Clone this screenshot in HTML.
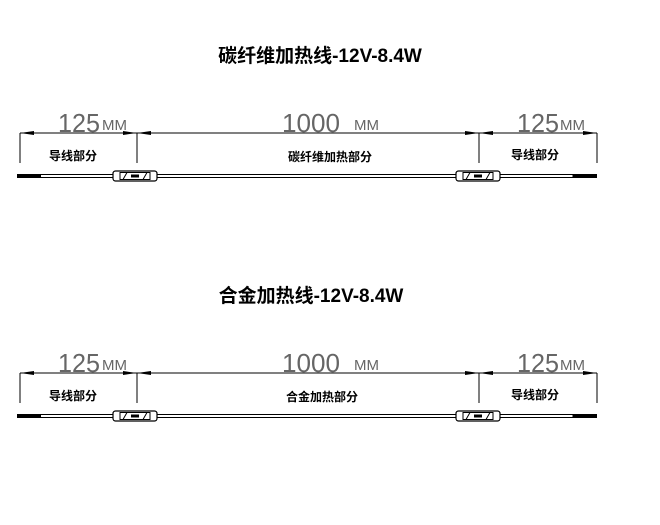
<!DOCTYPE html>
<html><head><meta charset="utf-8"><style>
html,body{margin:0;padding:0;background:#fff;width:660px;height:525px;overflow:hidden}
svg{display:block}
.t{font-family:"Liberation Sans","Noto Sans CJK SC",sans-serif;font-weight:bold;fill:#000}
.d{font-family:"Liberation Sans",sans-serif;fill:#666;font-weight:normal}
</style></head><body>
<svg width="660" height="525" viewBox="0 0 660 525" xmlns="http://www.w3.org/2000/svg">
<defs>
<g id="conn">
<rect x="0" y="-5" width="44" height="10" rx="2.5" fill="#fff" stroke="#000" stroke-width="1.2"/>
<rect x="7" y="-3.5" width="30" height="7" fill="#fff" stroke="#000" stroke-width="1"/>
<line x1="10" y1="3.5" x2="14" y2="-3.5" stroke="#000"/>
<line x1="30" y1="3.5" x2="34" y2="-3.5" stroke="#000"/>
<rect x="18" y="-1.5" width="8" height="3" fill="#000"/>
</g>
<g id="row">
<line x1="20" y1="0" x2="597" y2="0" stroke="#000" stroke-width="1"/>
<line x1="20" y1="0" x2="20" y2="30" stroke="#000"/>
<line x1="137" y1="0" x2="137" y2="30" stroke="#000"/>
<line x1="479" y1="0" x2="479" y2="30" stroke="#000"/>
<line x1="597" y1="0" x2="597" y2="30" stroke="#000"/>
<polygon points="20,0 34,-2 34,2" fill="#000"/>
<polygon points="137,0 123,-2 123,2" fill="#000"/>
<polygon points="137,0 151,-2 151,2" fill="#000"/>
<polygon points="479,0 465,-2 465,2" fill="#000"/>
<polygon points="479,0 493,-2 493,2" fill="#000"/>
<polygon points="597,0 583,-2 583,2" fill="#000"/>
<text class="d" x="58" y="-1" font-size="26" textLength="42" lengthAdjust="spacingAndGlyphs">125</text>
<text class="d" x="102" y="-3" font-size="15">MM</text>
<text class="d" x="282" y="-1" font-size="26" textLength="58" lengthAdjust="spacingAndGlyphs">1000</text>
<text class="d" x="354" y="-3" font-size="15">MM</text>
<text class="d" x="517" y="-1" font-size="26" textLength="42" lengthAdjust="spacingAndGlyphs">125</text>
<text class="d" x="560" y="-3" font-size="15">MM</text>
<rect x="40" y="41.5" width="533" height="3" fill="#fff" stroke="#000" stroke-width="1"/>
<rect x="17" y="41" width="24" height="4" fill="#000"/>
<rect x="573" y="41" width="24" height="4" fill="#000"/>
<use href="#conn" x="113" y="43"/>
<use href="#conn" x="456" y="43"/>
</g>
</defs>
<text class="t" x="320" y="62" font-size="19" text-anchor="middle">碳纤维加热线-12V-8.4W</text>
<g transform="translate(0,133)">
<use href="#row"/>
<text class="t" x="73" y="27" font-size="12" text-anchor="middle">导线部分</text>
<text class="t" x="330" y="28" font-size="12" text-anchor="middle">碳纤维加热部分</text>
<text class="t" x="535" y="26" font-size="12" text-anchor="middle">导线部分</text>
</g>
<text class="t" x="311" y="302" font-size="19" text-anchor="middle">合金加热线-12V-8.4W</text>
<g transform="translate(0,373)">
<use href="#row"/>
<text class="t" x="73" y="27" font-size="12" text-anchor="middle">导线部分</text>
<text class="t" x="322" y="28" font-size="12" text-anchor="middle">合金加热部分</text>
<text class="t" x="535" y="26" font-size="12" text-anchor="middle">导线部分</text>
</g>
</svg>
</body></html>
